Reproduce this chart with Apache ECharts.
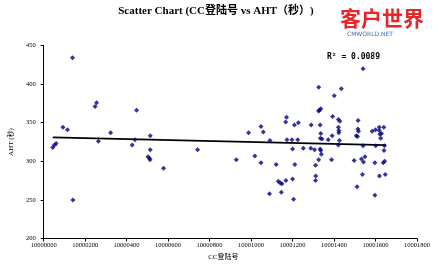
<!DOCTYPE html>
<html>
<head>
<meta charset="utf-8">
<script src="https://cdn.jsdelivr.net/npm/echarts@6/dist/echarts.min.js"></script>
<style>html,body{margin:0;padding:0;background:#fff}#c{width:439px;height:267px}</style>
</head>
<body>
<div id="c"></div>
<script>
// CC login numbers (x) and AHT seconds (y)
const ccIds = [
10000139,10000255,10000248,10000093,10000115,10000448,10000323,10000514,10000044,10000052,
10000060,10000264,10000427,10000514,10000742,10000503,10000510,10000513,10000578,10000141,
10000440,
10001540,10001326,10001435,10001401,10001325,10001330,10001336,10001171,10001167,10001228,
10001209,10001048,10001059,10000988,10001290,10001393,10001421,10001428,10001516,10001333,
10001421,10001423,10001423,10001336,10001391,10001515,10001518,10001507,10001513,10001091,
10001173,10001197,10001225,10001334,10001342,10001372,10001426,10001584,10001600,10001618,
10001640,10001618,10001621,10001629,10001625,10001200,10001252,10001288,10001306,10001333,
10001336,10001339,10000929,10001018,10001048,10001121,10001211,10001311,10001326,10001388,
10001497,10001532,10001549,10001542,10001597,10001637,10001644,10001540,10001643,10001641,
10001601,10001421,10001312,10001311,10001537,10001619,10001647,10001131,10001141,10001149,
10001168,10001200,10001089,10001146,10001205,10001511,10001597
];
const ahtSec = [
434,376,371,344,341,366,337,333,318,321,
323,326,321,315,315,306,304,302,291,250,
328,
420,396,394,385,365,366,368,357,351,350,
347,345,338,337,347,358,354,352,353,347,
344,340,337,336,333,342,339,333,332,327,
328,328,328,330,329,328,327,339,341,344,
344,340,335,336,330,316,317,317,315,316,
314,309,302,307,298,296,296,295,302,302,
301,303,306,299,298,298,300,320,320,314,
320,321,281,275,283,281,283,274,272,271,
275,277,258,260,251,267,256
];
// trend line endpoints
const trendX = [10000044, 10001650];
const trendY = [331, 321];
const xTicks = {min: 10000000, max: 10001800, interval: 200};
const yTicks = {min: 200, max: 450, interval: 50};

const pts = ccIds.map((x, i) => [x, ahtSec[i]]);
const trend = trendX.map((x, i) => [x, trendY[i]]);
const serif = '"Liberation Serif","DejaVu Serif","Noto Sans CJK SC",serif';

const chart = echarts.init(document.getElementById('c'), null, {renderer: 'canvas'});
chart.setOption({
  animation: false,
  backgroundColor: '#fff',
  title: {
    text: 'Scatter Chart (CC登陆号 vs AHT（秒）)',
    left: 211, top: 1, textAlign: 'center',
    textStyle: {fontFamily: serif, fontSize: 11, fontWeight: 'bold', color: '#000'}
  },
  grid: {left: 38, right: 22, top: 45.5, bottom: 28.5, containLabel: false},
  xAxis: {
    type: 'value', min: xTicks.min, max: xTicks.max, interval: xTicks.interval,
    name: 'CC登陆号', nameLocation: 'middle', nameGap: 12,
    nameTextStyle: {fontFamily: serif, fontSize: 7, color: '#000', padding: [0, 14, 0, 0]},
    axisLine: {lineStyle: {color: '#000', width: 1}},
    axisTick: {show: true, length: 3, lineStyle: {color: '#000'}},
    axisLabel: {fontFamily: serif, fontSize: 6.5, color: '#000', margin: 4,
      formatter: v => String(v)},
    splitLine: {show: false}
  },
  yAxis: {
    type: 'value', min: yTicks.min, max: yTicks.max, interval: yTicks.interval,
    name: 'AHT (秒)', nameLocation: 'middle', nameGap: 20, nameRotate: 90,
    nameTextStyle: {fontFamily: serif, fontSize: 7, color: '#000'},
    axisLine: {show: true, lineStyle: {color: '#000', width: 1}},
    axisTick: {show: true, length: 3, lineStyle: {color: '#000'}},
    axisLabel: {fontFamily: serif, fontSize: 6.5, color: '#000', margin: 8},
    splitLine: {show: false}
  },
  series: [
    {
      type: 'line', data: trend, symbol: 'none', silent: true,
      lineStyle: {color: '#000', width: 1.8}, z: 3
    },
    {
      type: 'scatter', data: pts, symbol: 'diamond', symbolSize: 5,
      itemStyle: {color: '#000080'}, z: 4
    }
  ],
  graphic: [
    {type: 'text', left: 327, top: 53,
      style: {text: 'R² = 0.0089', font: 'bold 8px "DejaVu Sans Mono", monospace', fill: '#000'}},
    {type: 'text', left: 340, top: 8,
      style: {text: '客户世界', font: 'bold 21px "Noto Sans CJK SC", sans-serif', fill: '#e8262a'}},
    {type: 'text', left: 347, top: 31,
      style: {text: 'CMWORLD.NET', font: '6px "DejaVu Sans", sans-serif', fill: '#3f6db0'}}
  ]
});
</script>
</body>
</html>
